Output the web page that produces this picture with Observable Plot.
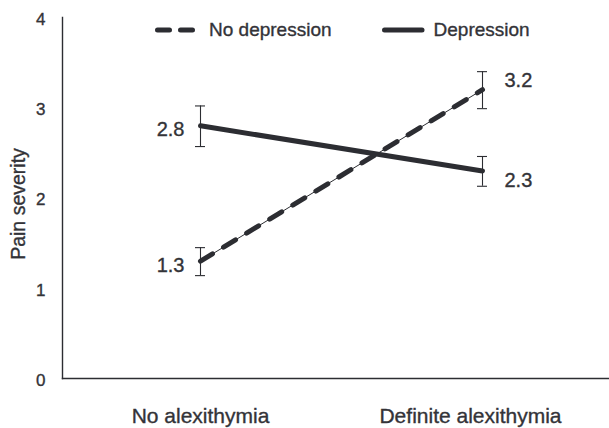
<!DOCTYPE html>
<html>
<head>
<meta charset="utf-8">
<script src="https://cdn.jsdelivr.net/npm/d3@7"></script>
<script src="https://cdn.jsdelivr.net/npm/@observablehq/plot@0.6"></script>
<style>
  html, body { margin: 0; padding: 0; background: #fff; }
  #wrap { position: relative; width: 609px; height: 428px; font-family: "Liberation Sans", Arial, sans-serif; color: #333338; }
  #chart svg text { stroke: #333338; stroke-width: 0.35px; }
  #legend { position: absolute; top: 18px; left: 155px; display: flex; align-items: center; font-size: 19px; line-height: 24px; -webkit-text-stroke: 0.35px #333338; }
  #legend .item { display: flex; align-items: center; }
  #legend svg { display: block; }
</style>
</head>
<body>
<div id="wrap">
  <div id="chart"></div>
  <div id="legend"></div>
</div>
<script>
const categories = ["No alexithymia", "Definite alexithymia"];
const seriesNames = ["No depression", "Depression"];
const noDepMean = [1.3, 3.2];
const noDepLow = [1.14, 2.99];
const noDepHigh = [1.45, 3.40];
const depMean = [2.8, 2.3];
const depLow = [2.57, 2.13];
const depHigh = [3.02, 2.46];
const yTicks = [0, 1, 2, 3, 4];
const yTitle = "Pain severity";

const ink = "#2c2d32";
const textInk = "#333338";
const fmt = d3.format(".1f");

const noDepRows = categories.map((c, i) => ({category: c, series: seriesNames[0], mean: noDepMean[i], low: noDepLow[i], high: noDepHigh[i], label: fmt(noDepMean[i])}));
const depRows = categories.map((c, i) => ({category: c, series: seriesNames[1], mean: depMean[i], low: depLow[i], high: depHigh[i], label: fmt(depMean[i])}));
const rows = noDepRows.concat(depRows);

const chart = Plot.plot({
  width: 609,
  height: 428,
  marginTop: 17,
  marginBottom: 50,
  marginLeft: 62,
  marginRight: 1,
  style: {fontFamily: "Liberation Sans, Arial, sans-serif", color: textInk, background: "#fff"},
  x: {type: "point", domain: categories, padding: 0, insetLeft: 138, insetRight: 126},
  y: {domain: [0, 4]},
  marks: [
    Plot.axisX({ticks: [categories[0]], tickSize: 0, tickPadding: 30, fontSize: 21, label: null}),
    Plot.axisX({ticks: [categories[1]], tickSize: 0, tickPadding: 30, fontSize: 21, label: null, dx: -12}),
    Plot.axisY({ticks: yTicks, tickFormat: "d", tickSize: 0, tickPadding: 17, fontSize: 17, label: null, dy: 2}),
    Plot.text([yTitle], {frameAnchor: "left", textAnchor: "middle", rotate: -90, dx: -44, dy: 6, fontSize: 19.5, fill: textInk}),
    Plot.frame({anchor: "left", stroke: ink, strokeWidth: 1.4}),
    Plot.frame({anchor: "bottom", stroke: ink, strokeWidth: 1.4}),
    Plot.ruleX(rows, {x: "category", y1: "low", y2: "high", stroke: ink, strokeWidth: 1.1}),
    Plot.ruleY(rows, {x1: "category", x2: "category", y: "low", stroke: ink, strokeWidth: 1.1, insetLeft: -5, insetRight: -5}),
    Plot.ruleY(rows, {x1: "category", x2: "category", y: "high", stroke: ink, strokeWidth: 1.1, insetLeft: -5, insetRight: -5}),
    Plot.line(noDepRows, {x: "category", y: "mean", stroke: ink, strokeWidth: 1}),
    Plot.line(noDepRows, {x: "category", y: "mean", stroke: ink, strokeWidth: 5, strokeDasharray: "14 13", strokeLinecap: "round"}),
    Plot.line(depRows, {x: "category", y: "mean", stroke: ink, strokeWidth: 5, strokeLinecap: "round"}),
    Plot.text(rows.filter(d => d.category === categories[0]), {x: "category", y: "mean", text: "label", textAnchor: "end", dx: -16, dy: 4, fontSize: 20, fill: textInk}),
    Plot.text(noDepRows.filter(d => d.category === categories[1]), {x: "category", y: "mean", text: "label", textAnchor: "start", dx: 22, dy: -9, fontSize: 20, fill: textInk}),
    Plot.text(depRows.filter(d => d.category === categories[1]), {x: "category", y: "mean", text: "label", textAnchor: "start", dx: 22, dy: 10, fontSize: 20, fill: textInk})
  ]
});
document.getElementById("chart").appendChild(chart);

// legend
const legend = d3.select("#legend");
const items = [
  {name: seriesNames[0], dash: "12 11"},
  {name: seriesNames[1], dash: null}
];
items.forEach((it, i) => {
  const item = legend.append("div").attr("class", "item").style("margin-right", i === 0 ? "50px" : "0px");
  const svg = item.append("svg").attr("width", 45).attr("height", 12);
  svg.append("line").attr("x1", 2.5).attr("x2", 40).attr("y1", 6).attr("y2", 6)
    .attr("stroke", ink).attr("stroke-width", 5).attr("stroke-linecap", "round")
    .attr("stroke-dasharray", it.dash);
  item.append("span").text(it.name).style("margin-left", i === 0 ? "9px" : "7px");
});
</script>
</body>
</html>
